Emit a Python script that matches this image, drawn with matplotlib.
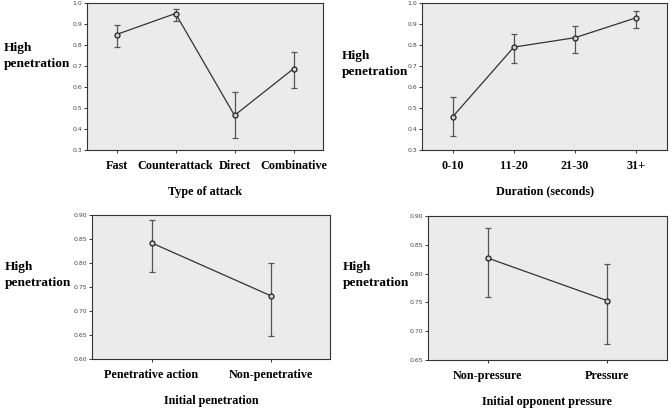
import matplotlib
matplotlib.use("Agg")
import matplotlib.pyplot as plt
import numpy as np

W, H = 671, 408

# Panel 1: Type of attack
attack_cats = ["Fast", "Counterattack", "Direct", "Combinative"]
attack_mean = [0.850, 0.950, 0.465, 0.687]
attack_low = [0.790, 0.915, 0.355, 0.595]
attack_high = [0.895, 0.972, 0.575, 0.765]

# Panel 2: Duration
dur_cats = ["0-10", "11-20", "21-30", "31+"]
dur_mean = [0.458, 0.790, 0.835, 0.930]
dur_low = [0.365, 0.716, 0.760, 0.882]
dur_high = [0.552, 0.851, 0.890, 0.962]

# Panel 3: Initial penetration
pen_cats = ["Penetrative action", "Non-penetrative"]
pen_mean = [0.842, 0.732]
pen_low = [0.782, 0.648]
pen_high = [0.889, 0.801]

# Panel 4: Initial opponent pressure
press_cats = ["Non-pressure", "Pressure"]
press_mean = [0.827, 0.753]
press_low = [0.759, 0.678]
press_high = [0.879, 0.816]

panels = [
    dict(box=(87, 3, 323, 150), cats=attack_cats, m=attack_mean, lo=attack_low, hi=attack_high,
         ylim=(0.3, 1.0), yticks=np.arange(0.3, 1.01, 0.1), fmt="{:.1f}", xlabel="Type of attack",
         ylab=(4, 56)),
    dict(box=(422, 3, 667, 150), cats=dur_cats, m=dur_mean, lo=dur_low, hi=dur_high,
         ylim=(0.3, 1.0), yticks=np.arange(0.3, 1.01, 0.1), fmt="{:.1f}", xlabel="Duration (seconds)",
         ylab=(342, 64)),
    dict(box=(92, 215, 330, 359), cats=pen_cats, m=pen_mean, lo=pen_low, hi=pen_high,
         ylim=(0.60, 0.90), yticks=np.arange(0.60, 0.901, 0.05), fmt="{:.2f}", xlabel="Initial penetration",
         ylab=(5, 275)),
    dict(box=(428, 216, 667, 360), cats=press_cats, m=press_mean, lo=press_low, hi=press_high,
         ylim=(0.65, 0.90), yticks=np.arange(0.65, 0.901, 0.05), fmt="{:.2f}", xlabel="Initial opponent pressure",
         ylab=(343, 275)),
]

fig = plt.figure(figsize=(W / 100, H / 100), dpi=100)
serif = ["Liberation Serif", "DejaVu Serif"]

for p in panels:
    l, t, r, b = p["box"]
    ax = fig.add_axes([l / W, 1 - b / H, (r - l) / W, (b - t) / H])
    ax.set_facecolor("#ebebeb")
    n = len(p["cats"])
    x = np.arange(n)
    m = np.array(p["m"]); lo = np.array(p["lo"]); hi = np.array(p["hi"])
    ax.errorbar(x, m, yerr=[m - lo, hi - m], fmt="none", ecolor="#555555", elinewidth=0.9,
                capsize=2.5, capthick=0.9, zorder=2)
    ax.plot(x, m, color="#333333", lw=0.9, zorder=3)
    ax.plot(x, m, "o", ms=3.6, mfc="#cfcfcf", mec="#222222", mew=0.9, zorder=4)
    ax.set_xlim(-0.5, n - 0.5)
    ax.set_ylim(*p["ylim"])
    ax.set_xticks(x)
    ax.set_xticklabels(p["cats"], family=serif, fontweight="bold", fontsize=8.7)
    ax.set_yticks(p["yticks"])
    ax.set_yticklabels([p["fmt"].format(v) for v in p["yticks"]], fontsize=4.4, color="#444444")
    ax.tick_params(axis="x", length=2.5, width=0.7, pad=4.5, color="#333333")
    ax.tick_params(axis="y", length=2.5, width=0.7, pad=1, color="#333333")
    for s in ax.spines.values():
        s.set_linewidth(0.8)
        s.set_color("#333333")
    ax.set_xlabel(p["xlabel"], family=serif, fontweight="bold", fontsize=8.7, labelpad=10)
    lx, ly = p["ylab"]
    fig.text(lx / W, 1 - ly / H, "High\npenetration", family=serif, fontweight="bold",
             fontsize=9.6, ha="left", va="center", linespacing=1.45)

fig.savefig("out.png", dpi=100)
